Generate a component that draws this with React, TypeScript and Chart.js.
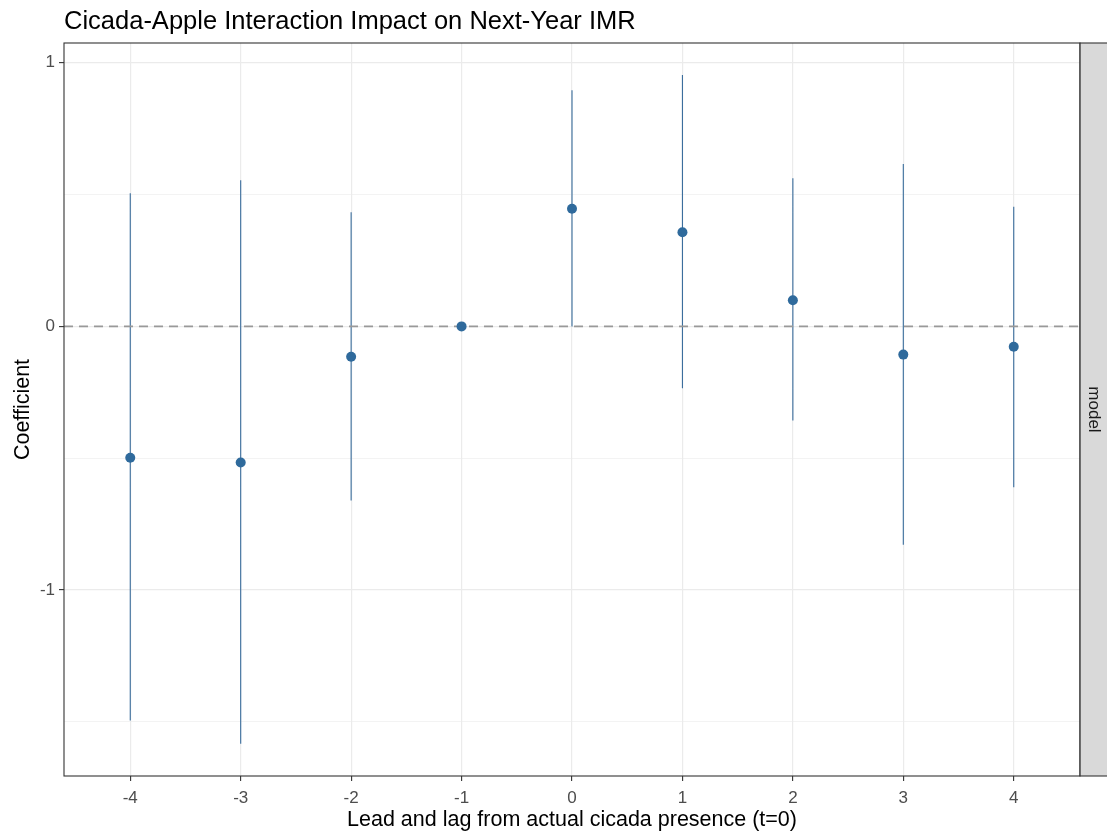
import React, { useEffect, useRef } from "react";
import { Chart, registerables } from "chart.js";

Chart.register(...registerables);

const leads = [-4, -3, -2, -1, 0, 1, 2, 3, 4];
const estimates = [-0.498, -0.516, -0.115, 0, 0.446, 0.357, 0.099, -0.107, -0.077];
const lowerCI = [-1.495, -1.583, -0.66, 0, 0.0, -0.235, -0.357, -0.828, -0.61];
const upperCI = [0.505, 0.554, 0.433, 0, 0.896, 0.953, 0.562, 0.616, 0.454];

const xTicks = [-4, -3, -2, -1, 0, 1, 2, 3, 4];
const yTicks = [-1.5, -1, -0.5, 0, 0.5, 1];
const yMajor = [-1, 0, 1];

const titleText = "Cicada-Apple Interaction Impact on Next-Year IMR";
const xTitle = "Lead and lag from actual cicada presence (t=0)";
const yTitle = "Coefficient";
const stripText = "model";

const FONT = "'Liberation Sans', Arial, sans-serif";
const PT_COLOR = "#2f6a9c";
const LINE_COLOR = "#3a6d9c";

export default function App() {
  const ref = useRef<HTMLCanvasElement | null>(null);

  useEffect(() => {
    if (!ref.current) return;

    const errData: any[] = [];
    leads.forEach((x, i) => {
      errData.push({ x, y: lowerCI[i] });
      errData.push({ x, y: upperCI[i] });
      errData.push({ x, y: null });
    });

    const decor = {
      id: "decor",
      beforeDraw(chart: any) {
        const ctx = chart.ctx;
        ctx.save();
        ctx.fillStyle = "#ffffff";
        ctx.fillRect(0, 0, chart.width, chart.height);
        ctx.restore();
      },
      afterDraw(chart: any) {
        const ctx = chart.ctx;
        const a = chart.chartArea;
        ctx.save();
        // panel border
        ctx.strokeStyle = "#333333";
        ctx.lineWidth = 1.1;
        ctx.strokeRect(a.left, a.top, a.right - a.left, a.bottom - a.top);
        // strip
        ctx.fillStyle = "#d9d9d9";
        ctx.fillRect(a.right + 0.5, a.top, 40, a.bottom - a.top);
        ctx.strokeRect(a.right, a.top, 40, a.bottom - a.top);
        ctx.fillStyle = "#1a1a1a";
        ctx.font = `17px ${FONT}`;
        ctx.textAlign = "center";
        ctx.textBaseline = "alphabetic";
        ctx.translate(a.right + 9, (a.top + a.bottom) / 2);
        ctx.rotate(Math.PI / 2);
        ctx.fillText(stripText, 0, 0);
        ctx.restore();

        ctx.save();
        ctx.fillStyle = "#000000";
        ctx.textBaseline = "alphabetic";
        ctx.font = `25.5px ${FONT}`;
        ctx.textAlign = "left";
        ctx.fillText(titleText, a.left, 29);
        ctx.font = `21.5px ${FONT}`;
        ctx.textAlign = "center";
        ctx.fillText(xTitle, (a.left + a.right) / 2, 826);
        ctx.translate(29, (a.top + a.bottom) / 2);
        ctx.rotate(-Math.PI / 2);
        ctx.fillText(yTitle, 0, 0);
        ctx.restore();
      },
    };

    const chart = new Chart(ref.current, {
      type: "scatter",
      data: {
        datasets: [
          {
            type: "scatter",
            label: "estimate",
            data: leads.map((x, i) => ({ x, y: estimates[i] })),
            pointRadius: 5,
            pointBackgroundColor: PT_COLOR,
            pointBorderWidth: 0,
            order: 0,
          } as any,
          {
            type: "line",
            label: "zero",
            data: [
              { x: -4.6, y: 0 },
              { x: 4.6, y: 0 },
            ],
            borderColor: "#999999",
            borderWidth: 1.6,
            borderDash: [9, 6],
            pointRadius: 0,
            fill: false,
            order: 1,
          } as any,
          {
            type: "line",
            label: "ci",
            data: errData,
            borderColor: LINE_COLOR,
            borderWidth: 1.1,
            pointRadius: 0,
            spanGaps: false,
            fill: false,
            borderCapStyle: "butt",
            order: 2,
          } as any,
        ],
      },
      options: {
        responsive: false,
        animation: false,
        events: [],
        layout: { padding: { top: 43, right: 27, left: 0, bottom: 0 } },
        plugins: {
          legend: { display: false },
          tooltip: { enabled: false },
          title: { display: false },
        },
        scales: {
          x: {
            type: "linear",
            min: -4.6,
            max: 4.6,
            afterBuildTicks: (s: any) => {
              s.ticks = xTicks.map((v) => ({ value: v }));
            },
            afterFit: (s: any) => {
              s.height = 59;
            },
            border: { display: false },
            grid: {
              color: "#ebebeb",
              lineWidth: 1.2,
              drawTicks: true,
              tickLength: 5,
              tickColor: "#333333",
              tickWidth: 1.1,
            },
            ticks: {
              autoSkip: false,
              maxRotation: 0,
              padding: 7,
              color: "#4d4d4d",
              font: { family: FONT, size: 17 },
              callback: (v: any) => String(v),
            },
          },
          y: {
            type: "linear",
            min: -1.7053,
            max: 1.0748,
            afterBuildTicks: (s: any) => {
              s.ticks = yTicks.map((v) => ({ value: v }));
            },
            afterFit: (s: any) => {
              s.width = 64;
            },
            border: { display: false },
            grid: {
              color: "#ebebeb",
              lineWidth: (c: any) => (yMajor.includes(c.tick?.value) ? 1.2 : 0.6),
              drawTicks: true,
              tickLength: 5,
              tickColor: (c: any) =>
                yMajor.includes(c.tick?.value) ? "#333333" : "rgba(0,0,0,0)",
              tickWidth: 1.1,
            },
            ticks: {
              autoSkip: false,
              padding: 4,
              color: "#4d4d4d",
              font: { family: FONT, size: 17 },
              callback: (v: any) => (yMajor.includes(v) ? String(v) : ""),
            },
          },
        },
      },
      plugins: [decor],
    });

    return () => chart.destroy();
  }, []);

  return (
    <div style={{ position: "absolute", left: 0, top: 0, width: 1107, height: 835 }}>
      <canvas ref={ref} width={1107} height={835} style={{ width: 1107, height: 835 }} />
    </div>
  );
}
